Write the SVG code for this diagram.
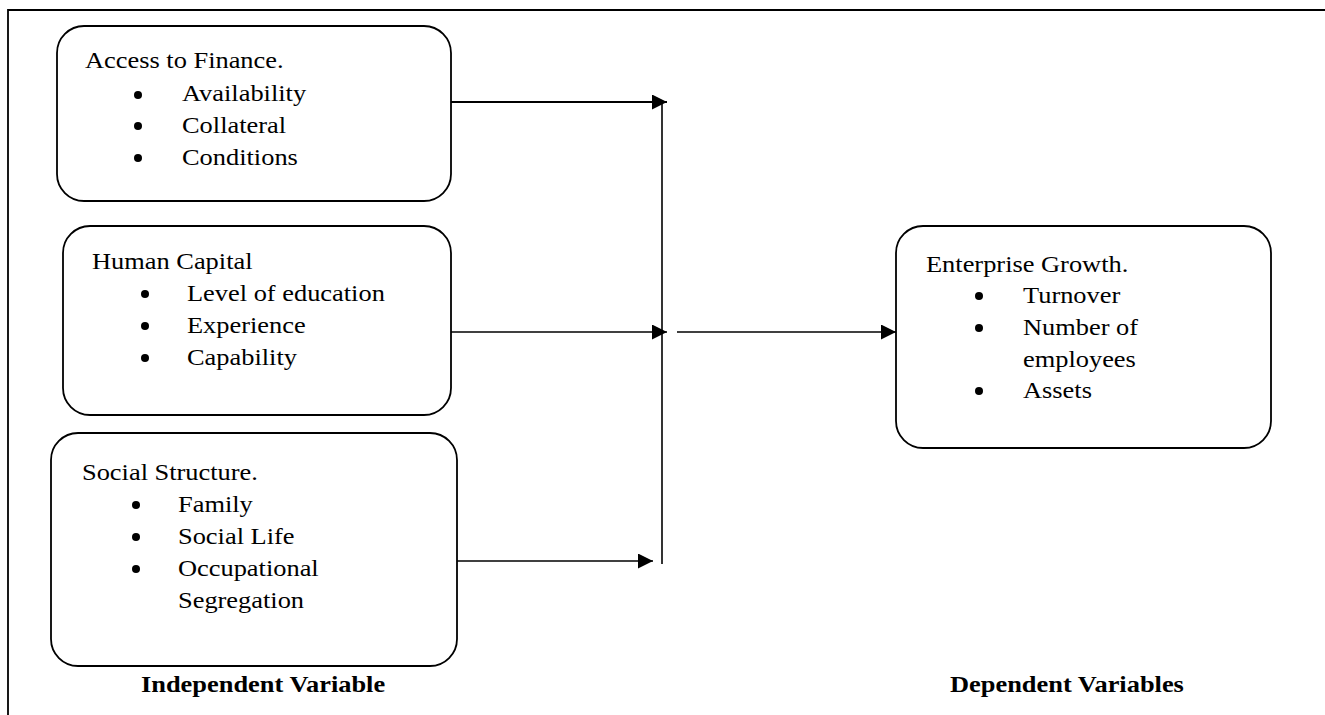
<svg xmlns="http://www.w3.org/2000/svg" width="1325" height="715" viewBox="0 0 1325 715">
<style>
.box{fill:#fff;stroke:#000;stroke-width:1.8}
.t{font-family:"Liberation Serif","Times New Roman",serif;font-size:24px;fill:#000}
.b{font-family:"Liberation Serif","Times New Roman",serif;font-size:24px;font-weight:bold;fill:#000}
.ln{stroke:#000;stroke-width:1.6;fill:none}
.frame{stroke:#000;stroke-width:1.8;fill:none}
</style>
<defs>
<marker id="ah" markerUnits="userSpaceOnUse" markerWidth="16" markerHeight="16" refX="15" refY="7.5" orient="auto">
<path d="M0,0 L15,7.5 L0,15 z" fill="#000"/>
</marker>
</defs>
<rect width="1325" height="715" fill="#fff"/>
<path class="frame" d="M8,715 L8,10 L1325,10"/>

<g id="connectors">
<line class="ln" x1="451" y1="102" x2="667" y2="102" marker-end="url(#ah)" style="stroke-width:2.2"/>
<line class="ln" x1="662" y1="102" x2="662" y2="564"/>
<line class="ln" x1="451" y1="332" x2="667" y2="332" marker-end="url(#ah)"/>
<line class="ln" x1="457" y1="561" x2="653" y2="561" marker-end="url(#ah)"/>
<line class="ln" x1="677" y1="332" x2="896" y2="332" marker-end="url(#ah)"/>
</g>

<g id="node-finance">
<rect class="box" x="57" y="26" width="394" height="175" rx="27" ry="27"/>
<text class="t" transform="matrix(1.1 0 0 1 85 68)">Access to Finance.</text>
<circle cx="138" cy="95" r="4"/>
<text class="t" transform="matrix(1.1 0 0 1 182 101)">Availability</text>
<circle cx="138" cy="126" r="4"/>
<text class="t" transform="matrix(1.1 0 0 1 182 133)">Collateral</text>
<circle cx="138" cy="158" r="4"/>
<text class="t" transform="matrix(1.1 0 0 1 182 165)">Conditions</text>
</g>

<g id="node-human">
<rect class="box" x="63" y="226" width="388" height="189" rx="27" ry="27"/>
<text class="t" transform="matrix(1.1 0 0 1 92 269)">Human Capital</text>
<circle cx="145" cy="294" r="4"/>
<text class="t" transform="matrix(1.1 0 0 1 187 301)">Level of education</text>
<circle cx="145" cy="326" r="4"/>
<text class="t" transform="matrix(1.1 0 0 1 187 333)">Experience</text>
<circle cx="145" cy="358" r="4"/>
<text class="t" transform="matrix(1.1 0 0 1 187 365)">Capability</text>
</g>

<g id="node-social">
<rect class="box" x="51" y="433" width="406" height="233" rx="27" ry="27"/>
<text class="t" transform="matrix(1.1 0 0 1 82 480)">Social Structure.</text>
<circle cx="136" cy="505" r="4"/>
<text class="t" transform="matrix(1.1 0 0 1 178 512)">Family</text>
<circle cx="136" cy="537" r="4"/>
<text class="t" transform="matrix(1.1 0 0 1 178 544)">Social Life</text>
<circle cx="136" cy="569" r="4"/>
<text class="t" transform="matrix(1.1 0 0 1 178 576)">Occupational</text>
<text class="t" transform="matrix(1.1 0 0 1 178 608)">Segregation</text>
</g>

<g id="node-growth">
<rect class="box" x="896" y="226" width="375" height="222" rx="27" ry="27"/>
<text class="t" transform="matrix(1.1 0 0 1 926 272)">Enterprise Growth.</text>
<circle cx="979" cy="296" r="4"/>
<text class="t" transform="matrix(1.1 0 0 1 1023 303)">Turnover</text>
<circle cx="979" cy="328" r="4"/>
<text class="t" transform="matrix(1.1 0 0 1 1023 335)">Number of</text>
<text class="t" transform="matrix(1.1 0 0 1 1023 367)">employees</text>
<circle cx="979" cy="391" r="4"/>
<text class="t" transform="matrix(1.1 0 0 1 1023 398)">Assets</text>
</g>

<g id="label-independent">
<text class="b" transform="matrix(1.1 0 0 1 141 692)">Independent Variable</text>
</g>
<g id="label-dependent">
<text class="b" transform="matrix(1.1 0 0 1 950 692)">Dependent Variables</text>
</g>
</svg>
